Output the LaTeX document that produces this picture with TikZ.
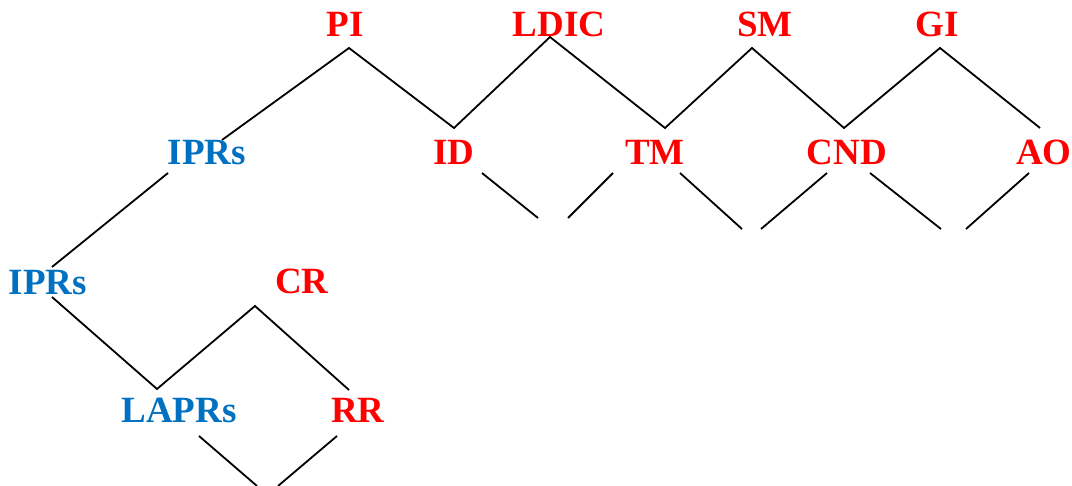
\documentclass[tikz,border=0pt]{standalone}
\usepackage{fontspec}
\setmainfont{Liberation Serif}
\definecolor{termred}{RGB}{255,0,0}
\definecolor{termblue}{RGB}{0,112,192}
\begin{document}
\begin{tikzpicture}[x=1pt,y=-1pt,
  term/.style={anchor=base,inner sep=0pt,font=\fontsize{37}{40}\selectfont\bfseries},
  redterm/.style={term,text=termred},
  blueterm/.style={term,text=termblue},
  link/.style={draw=black,line width=1.8pt,line join=miter}]
\useasboundingbox (0,0) rectangle (1072,486);

% labels
\node[redterm]  (PI)    at (345,37)  {PI};
\node[redterm]  (LDIC)  at (559,37)  {LDIC};
\node[redterm]  (SM)    at (765,37)  {SM};
\node[redterm]  (GI)    at (937,37)  {GI};
\node[blueterm] (IPRsA) at (207,165) {IPRs};
\node[redterm]  (ID)    at (454,165) {ID};
\node[redterm]  (TM)    at (655,165) {TM};
\node[redterm]  (CND)   at (847,165) {CND};
\node[redterm]  (AO)    at (1044,165) {AO};
\node[blueterm] (IPRsB) at (48,295)  {IPRs};
\node[redterm]  (CR)    at (302,294) {CR};
\node[blueterm] (LAPRs) at (179,423) {LAPRs};
\node[redterm]  (RR)    at (358,423) {RR};

% joints of the upper zigzag
\coordinate (ipA) at (222,140);
\coordinate (pi)  at (349,48);
\coordinate (id)  at (454,128);
\coordinate (ld)  at (550,37);
\coordinate (tm)  at (665,128);
\coordinate (sm)  at (752,48);
\coordinate (cnd) at (844,128);
\coordinate (gi)  at (940,48);
\coordinate (ao)  at (1040,128);
\draw[link] (ipA) -- (pi) -- (id) -- (ld) -- (tm) -- (sm) -- (cnd) -- (gi) -- (ao);

% left branch
\coordinate (ipAlow) at (168,173);
\coordinate (ipBtop) at (52,267);
\draw[link] (ipAlow) -- (ipBtop);

\coordinate (ipBlow) at (52,297);
\coordinate (lap)    at (157,389);
\coordinate (cr)     at (255,306);
\coordinate (rr)     at (349,390);
\draw[link] (ipBlow) -- (lap) -- (cr) -- (rr);

% open ends below the lower labels
\coordinate (lapR) at (199,436); \coordinate (lapE) at (257,486);
\coordinate (rrL)  at (337,436); \coordinate (rrE)  at (278,486);
\draw[link] (lapR) -- (lapE);
\draw[link] (rrL) -- (rrE);

\coordinate (idR)  at (482,173); \coordinate (idE)  at (538,218);
\coordinate (tmL)  at (613,173); \coordinate (tmLE) at (568,218);
\coordinate (tmR)  at (680,173); \coordinate (tmRE) at (742,229);
\coordinate (cndL) at (827,173); \coordinate (cndLE) at (761,229);
\coordinate (cndR) at (870,173); \coordinate (cndRE) at (941,229);
\coordinate (aoL)  at (1029,173); \coordinate (aoLE) at (966,229);
\draw[link] (idR) -- (idE);
\draw[link] (tmL) -- (tmLE);
\draw[link] (tmR) -- (tmRE);
\draw[link] (cndL) -- (cndLE);
\draw[link] (cndR) -- (cndRE);
\draw[link] (aoL) -- (aoLE);
\end{tikzpicture}
\end{document}
